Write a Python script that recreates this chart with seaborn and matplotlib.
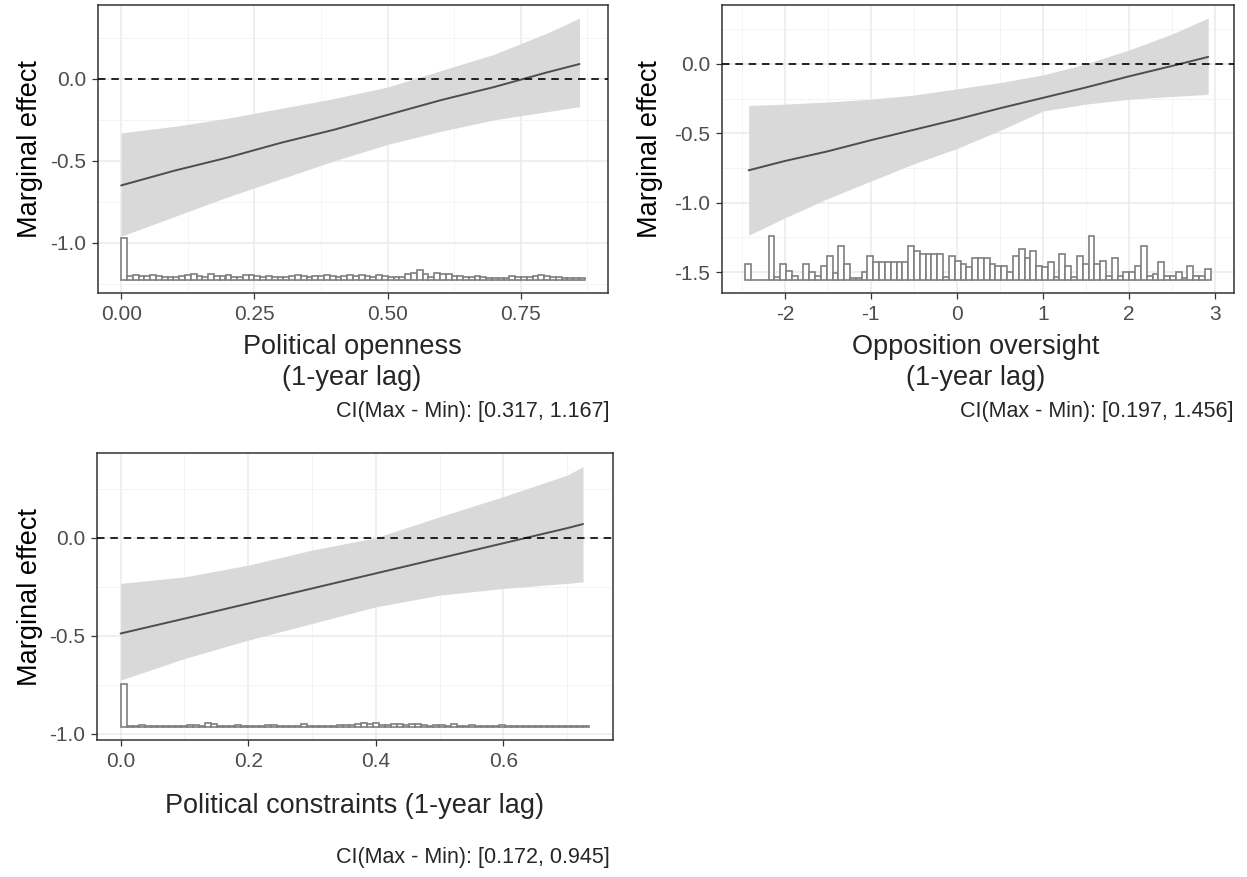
import matplotlib
matplotlib.use("Agg")
import numpy as np
import pandas as pd
import seaborn as sns
import matplotlib.pyplot as plt

# ---------------- data ----------------
# Panel 1: Political openness
p1_x = [0.00, 0.10, 0.20, 0.30, 0.40, 0.50, 0.60, 0.70, 0.80, 0.86]
p1_me = [-0.65, -0.56, -0.48, -0.39, -0.31, -0.22, -0.13, -0.05, 0.04, 0.09]
p1_lo = [-0.96, -0.84, -0.72, -0.61, -0.50, -0.40, -0.32, -0.25, -0.20, -0.17]
p1_hi = [-0.33, -0.29, -0.24, -0.18, -0.12, -0.05, 0.05, 0.15, 0.28, 0.37]
p1_hist = [100, 10, 12, 10, 9, 12, 10, 6, 7, 7, 9, 11, 13, 9, 6, 15, 10, 9, 12, 7,
           8, 12, 12, 9, 6, 9, 6, 6, 6, 9, 11, 9, 7, 10, 10, 12, 9, 6, 10, 11,
           10, 11, 9, 6, 11, 9, 6, 6, 7, 13, 16, 23, 13, 7, 16, 15, 14, 10, 9, 7,
           7, 9, 7, 5, 4, 4, 5, 9, 8, 6, 7, 10, 12, 9, 7, 6, 5, 4, 4, 4]
p1_hist_range = [0.0, 0.87]

# Panel 2: Opposition oversight
p2_x = [-2.42, -2.0, -1.5, -1.0, -0.5, 0.0, 0.5, 1.0, 1.5, 2.0, 2.5, 2.92]
p2_me = [-0.767, -0.70, -0.63, -0.55, -0.475, -0.40, -0.32, -0.245, -0.17, -0.09, -0.015, 0.05]
p2_lo = [-1.235, -1.11, -0.97, -0.845, -0.72, -0.61, -0.48, -0.34, -0.29, -0.255, -0.235, -0.22]
p2_hi = [-0.30, -0.29, -0.275, -0.255, -0.225, -0.18, -0.135, -0.08, 0.0, 0.10, 0.215, 0.33]
p2_hist = [48, 0, 0, 0, 133, 10, 48, 28, 13, 0, 48, 23, 13, 43, 73, 20, 103, 48, 5, 5,
           25, 73, 55, 55, 55, 55, 55, 55, 103, 88, 78, 78, 78, 78, 8, 73, 58, 48, 38, 65,
           65, 65, 48, 43, 43, 25, 71, 95, 65, 88, 43, 38, 55, 10, 78, 43, 10, 73, 48, 133,
           48, 58, 13, 65, 13, 25, 25, 43, 103, 13, 18, 55, 13, 13, 23, 5, 43, 13, 13, 33]
p2_hist_range = [-2.46, 2.95]

# Panel 3: Political constraints
p3_x = [0.0, 0.1, 0.2, 0.3, 0.4, 0.5, 0.6, 0.7, 0.725]
p3_me = [-0.489, -0.413, -0.336, -0.259, -0.182, -0.105, -0.028, 0.049, 0.07]
p3_lo = [-0.727, -0.617, -0.523, -0.438, -0.353, -0.293, -0.259, -0.233, -0.225]
p3_hi = [-0.233, -0.20, -0.14, -0.063, 0.0, 0.107, 0.21, 0.32, 0.363]
p3_hist = [100, 3, 3, 5, 3, 3, 3, 3, 3, 3, 3, 4, 4, 3, 8, 6, 3, 3, 3, 4,
           3, 3, 3, 3, 4, 5, 3, 3, 3, 3, 6, 3, 3, 3, 3, 3, 4, 5, 5, 6,
           8, 6, 8, 5, 5, 6, 6, 4, 6, 7, 4, 3, 5, 4, 3, 6, 3, 3, 5, 3,
           3, 3, 3, 4, 3, 3, 3, 3, 2, 2, 2, 2, 2, 2, 2, 2, 2, 2]
p3_hist_range = [0.0, 0.735]

xlabels = [["Political openness", "(1-year lag)"],
           ["Opposition oversight", "(1-year lag)"],
           ["Political constraints (1-year lag)"]]
captions = ["CI(Max - Min): [0.317, 1.167]",
            "CI(Max - Min): [0.197, 1.456]",
            "CI(Max - Min): [0.172, 0.945]"]
ylab = "Marginal effect"

# ---------------- style ----------------
sns.set_theme(style="white")
plt.rcParams["font.family"] = ["Liberation Sans", "DejaVu Sans"]
plt.rcParams["axes.unicode_minus"] = False

W, H = 1247, 877
fig = plt.figure(figsize=(W / 100, H / 100), dpi=100)


def px_axes(left, top, right, bottom):
    return fig.add_axes([left / W, 1 - bottom / H, (right - left) / W, (bottom - top) / H])


def draw_panel(ax, x, me, lo, hi, hist, hrange, hbase, hmaxh, xlim, ylim,
               xt, xtl, xminor, yt, ytl, yminor):
    ax.set_axisbelow(True)
    ax.fill_between(x, lo, hi, color="#D9D9D9", lw=0, zorder=1)
    df = pd.DataFrame({"x": x, "me": me})
    sns.lineplot(data=df, x="x", y="me", ax=ax, color="#4D4D4D", lw=1.4, zorder=2)
    ax.axhline(0, color="black", ls=(0, (4.5, 3.5)), lw=1.2, zorder=4)
    h = np.asarray(hist, dtype=float)
    heights = h / h.max() * hmaxh
    edges = np.linspace(hrange[0], hrange[1], len(h) + 1)
    ax.bar(edges[:-1], heights, width=np.diff(edges), bottom=hbase, align="edge",
           facecolor="white", edgecolor="#7F7F7F", linewidth=1.2, zorder=3)
    ax.set_xlim(*xlim)
    ax.set_ylim(*ylim)
    ax.set_xticks(xt)
    ax.set_xticklabels(xtl)
    ax.set_xticks(xminor, minor=True)
    ax.set_yticks(yt)
    ax.set_yticklabels(ytl)
    ax.set_yticks(yminor, minor=True)
    ax.grid(which="major", color="#EBEBEB", lw=1.1)
    ax.grid(which="minor", color="#F2F2F2", lw=0.6)
    ax.tick_params(which="major", direction="out", length=4.5, width=0.9, color="#333333",
                   labelcolor="#4D4D4D", labelsize=15, pad=4,
                   bottom=True, left=True)
    ax.tick_params(which="minor", length=0)
    for s in ax.spines.values():
        s.set_color("#333333")
        s.set_linewidth(1.1)
    ax.set_xlabel("")
    ax.set_ylabel("")


ax1 = px_axes(98, 5, 608, 293)
draw_panel(ax1, p1_x, p1_me, p1_lo, p1_hi, p1_hist, p1_hist_range, -1.226, 0.256,
           (-0.0435, 0.9135), (-1.306, 0.45),
           [0, 0.25, 0.5, 0.75], ["0.00", "0.25", "0.50", "0.75"], [0.125, 0.375, 0.625, 0.875],
           [0, -0.5, -1.0], ["0.0", "-0.5", "-1.0"], [0.25, -0.25, -0.75, -1.25])

ax2 = px_axes(722, 5, 1234, 293)
draw_panel(ax2, p2_x, p2_me, p2_lo, p2_hi, p2_hist, p2_hist_range, -1.557, 0.317,
           (-2.73, 3.22), (-1.651, 0.424),
           [-2, -1, 0, 1, 2, 3], ["-2", "-1", "0", "1", "2", "3"], [-2.5, -1.5, -0.5, 0.5, 1.5, 2.5],
           [0, -0.5, -1.0, -1.5], ["0.0", "-0.5", "-1.0", "-1.5"], [0.25, -0.25, -0.75, -1.25])

ax3 = px_axes(97, 453, 613, 740)
draw_panel(ax3, p3_x, p3_me, p3_lo, p3_hi, p3_hist, p3_hist_range, -0.966, 0.218,
           (-0.037, 0.772), (-1.033, 0.433),
           [0, 0.2, 0.4, 0.6], ["0.0", "0.2", "0.4", "0.6"], [0.1, 0.3, 0.5, 0.7],
           [0, -0.5, -1.0], ["0.0", "-0.5", "-1.0"], [0.25, -0.25, -0.75])


def ftext(xp, yp, s, **kw):
    fig.text(xp / W, 1 - yp / H, s, **kw)


TS = 19.5
CS = 15.5
ftext(30, 149, ylab, rotation=90, ha="center", va="center", fontsize=TS, color="black")
ftext(650, 149, ylab, rotation=90, ha="center", va="center", fontsize=TS, color="black")
ftext(30, 597, ylab, rotation=90, ha="center", va="center", fontsize=TS, color="black")

ftext(352, 347, xlabels[0][0], ha="center", va="center", fontsize=TS)
ftext(352, 378, xlabels[0][1], ha="center", va="center", fontsize=TS)
ftext(976, 347, xlabels[1][0], ha="center", va="center", fontsize=TS)
ftext(976, 378, xlabels[1][1], ha="center", va="center", fontsize=TS)
ftext(354, 806, xlabels[2][0], ha="center", va="center", fontsize=TS)

ftext(610, 412, captions[0], ha="right", va="center", fontsize=CS)
ftext(1234, 412, captions[1], ha="right", va="center", fontsize=CS)
ftext(610, 858, captions[2], ha="right", va="center", fontsize=CS)

fig.savefig("out.png", dpi=100, facecolor="white")
